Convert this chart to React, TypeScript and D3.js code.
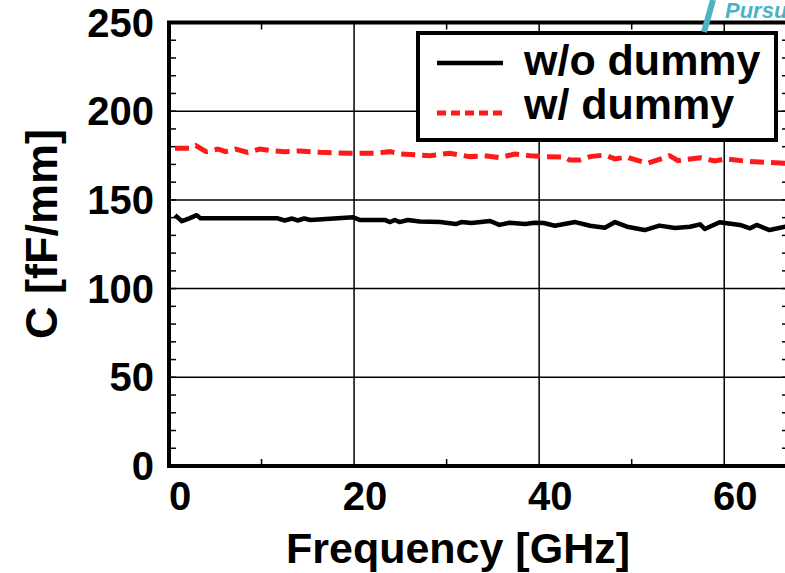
import React, { useEffect, useRef } from "react";
import * as d3 from "d3";

// frequency [GHz] and capacitance [fF/mm]
const freqWo = [0.65, 1.4, 2.2, 3.0, 3.4, 11.75, 12.5, 13.3, 13.9, 14.6, 15.3, 19.9, 20.6, 23.3, 23.9, 24.4, 24.9, 25.8, 27.1, 29.3, 31.0, 31.6, 32.7, 34.7, 35.7, 36.8, 38.5, 39.5, 40.5, 41.7, 43.9, 45.5, 47.1, 48.2, 49.5, 51.4, 53.0, 54.7, 56.3, 57.4, 57.9, 59.5, 61.7, 62.8, 63.5, 64.9, 66.6, 67.5];
const capWo = [141.4, 138.0, 139.6, 141.4, 139.6, 139.6, 138.4, 139.5, 138.4, 139.5, 138.7, 140.2, 138.7, 138.7, 137.5, 138.7, 137.5, 138.7, 137.8, 137.5, 136.4, 137.5, 137.0, 138.1, 135.9, 137.1, 136.4, 137.1, 137.0, 135.4, 137.5, 135.4, 134.3, 137.5, 134.9, 133.0, 135.5, 134.2, 134.9, 136.2, 133.6, 137.4, 135.9, 134.0, 135.9, 133.0, 134.9, 134.0];

const freqW = [0.65, 2.2, 2.9, 4.0, 5.3, 6.1, 7.2, 8.5, 9.8, 11.4, 12.5, 14.1, 16.3, 19.5, 22.2, 23.9, 24.9, 28.2, 30.3, 32.5, 34.1, 35.7, 37.4, 39.0, 40.6, 42.8, 43.3, 44.4, 45.5, 47.1, 48.2, 49.5, 49.8, 51.7, 53.4, 54.1, 55.0, 56.3, 57.4, 59.0, 60.1, 62.2, 64.4, 66.6, 67.5];
const capW = [179.1, 179.1, 180.6, 177.2, 178.7, 177.2, 178.7, 176.8, 178.7, 177.6, 177.2, 177.6, 176.8, 176.3, 176.3, 177.2, 175.9, 174.9, 176.3, 174.4, 174.9, 173.8, 175.9, 174.9, 174.4, 174.2, 172.5, 172.5, 174.4, 175.3, 173.1, 174.2, 173.5, 170.6, 173.5, 174.9, 172.1, 173.1, 173.8, 171.9, 173.1, 171.9, 171.2, 170.6, 170.4];

const yTicks = [0, 50, 100, 150, 200, 250];
const xTicks = [0, 20, 40, 60];
const legendLabels = ["w/o dummy", "w/ dummy"];

const FONT = "'Liberation Sans', Arial, sans-serif";

const App = () => {
  const svgRef = useRef<SVGSVGElement>(null);

  useEffect(() => {
    const width = 785;
    const height = 573;
    const left = 169;
    const top = 22.5;
    const right = 789; // frame runs past the picture edge
    const bottom = 466;

    const svg = d3.select(svgRef.current);
    svg.selectAll("*").remove();
    svg.attr("width", width).attr("height", height);

    const x = d3.scaleLinear().domain([0, 67]).range([left, right]);
    const y = d3.scaleLinear().domain([0, 250]).range([bottom, top]);

    // grid
    svg
      .append("g")
      .selectAll("line")
      .data([50, 100, 150, 200])
      .join("line")
      .attr("x1", left)
      .attr("x2", right)
      .attr("y1", (d) => y(d))
      .attr("y2", (d) => y(d))
      .attr("stroke", "#000")
      .attr("stroke-width", 1.5);
    svg
      .append("g")
      .selectAll("line")
      .data([20, 40, 60])
      .join("line")
      .attr("x1", (d) => x(d))
      .attr("x2", (d) => x(d))
      .attr("y1", top)
      .attr("y2", bottom)
      .attr("stroke", "#000")
      .attr("stroke-width", 1.5);

    // minor ticks, pointing inward
    const minorY = d3.range(10, 250, 10);
    const minorX = [10, 30, 50];
    const ticks = svg.append("g").attr("stroke", "#000").attr("stroke-width", 1.5);
    minorY.forEach((v) => {
      ticks.append("line").attr("x1", left).attr("x2", left + 7).attr("y1", y(v)).attr("y2", y(v));
      ticks.append("line").attr("x1", right).attr("x2", right - 7).attr("y1", y(v)).attr("y2", y(v));
    });
    minorX.forEach((v) => {
      ticks.append("line").attr("x1", x(v)).attr("x2", x(v)).attr("y1", bottom).attr("y2", bottom - 7);
      ticks.append("line").attr("x1", x(v)).attr("x2", x(v)).attr("y1", top).attr("y2", top + 7);
    });

    // data lines
    const line = d3
      .line<[number, number]>()
      .x((d) => x(d[0]))
      .y((d) => y(d[1]));

    svg
      .append("path")
      .datum(freqWo.map((f, i) => [f, capWo[i]] as [number, number]))
      .attr("d", line)
      .attr("fill", "none")
      .attr("stroke", "#000")
      .attr("stroke-width", 4.5)
      .attr("stroke-linejoin", "round");

    svg
      .append("path")
      .datum(freqW.map((f, i) => [f, capW[i]] as [number, number]))
      .attr("d", line)
      .attr("fill", "none")
      .attr("stroke", "#ff1a1a")
      .attr("stroke-width", 5)
      .attr("stroke-dasharray", "14,7");

    // frame
    svg
      .append("rect")
      .attr("x", left)
      .attr("y", top)
      .attr("width", right - left)
      .attr("height", bottom - top)
      .attr("fill", "none")
      .attr("stroke", "#000")
      .attr("stroke-width", 4);

    // tick labels
    svg
      .append("g")
      .selectAll("text")
      .data(yTicks)
      .join("text")
      .attr("x", 154)
      .attr("y", (d) => y(d) + 14)
      .attr("text-anchor", "end")
      .attr("font-family", FONT)
      .attr("font-weight", "bold")
      .attr("font-size", 40)
      .text((d) => d);

    svg
      .append("g")
      .selectAll("text")
      .data(xTicks)
      .join("text")
      .attr("x", (d) => x(d) + 11)
      .attr("y", 510)
      .attr("text-anchor", "middle")
      .attr("font-family", FONT)
      .attr("font-weight", "bold")
      .attr("font-size", 40)
      .text((d) => d);

    // axis titles
    svg
      .append("text")
      .attr("x", 458)
      .attr("y", 563)
      .attr("text-anchor", "middle")
      .attr("font-family", FONT)
      .attr("font-weight", "bold")
      .attr("font-size", 43)
      .text("Frequency [GHz]");

    svg
      .append("text")
      .attr("transform", "translate(57,234) rotate(-90)")
      .attr("text-anchor", "middle")
      .attr("font-family", FONT)
      .attr("font-weight", "bold")
      .attr("font-size", 45)
      .text("C [fF/mm]");

    // legend
    const lg = svg.append("g");
    lg.append("rect")
      .attr("x", 418)
      .attr("y", 33)
      .attr("width", 358)
      .attr("height", 107)
      .attr("fill", "#fff")
      .attr("stroke", "#000")
      .attr("stroke-width", 4);
    lg.append("line")
      .attr("x1", 437).attr("x2", 503).attr("y1", 63).attr("y2", 63)
      .attr("stroke", "#000").attr("stroke-width", 4.5);
    lg.append("line")
      .attr("x1", 437).attr("x2", 503).attr("y1", 113).attr("y2", 113)
      .attr("stroke", "#ff1a1a").attr("stroke-width", 5).attr("stroke-dasharray", "9,5");
    lg.selectAll("text")
      .data(legendLabels)
      .join("text")
      .attr("x", 524)
      .attr("y", (d, i) => 75 + i * 44)
      .attr("font-family", FONT)
      .attr("font-weight", "bold")
      .attr("font-size", 43)
      .text((d) => d);

    // watermark bits at the top right
    svg
      .append("line")
      .attr("x1", 704).attr("y1", 32).attr("x2", 713).attr("y2", 0)
      .attr("stroke", "#4ab3c4").attr("stroke-width", 6);
    svg
      .append("text")
      .attr("x", 725)
      .attr("y", 18)
      .attr("font-family", FONT)
      .attr("font-weight", "bold")
      .attr("font-style", "italic")
      .attr("font-size", 22)
      .attr("fill", "#4ab3c4")
      .text("Pursu");
  }, []);

  return (
    <svg
      ref={svgRef}
      style={{ position: "absolute", left: 0, top: 0, overflow: "hidden" }}
    ></svg>
  );
};

export default App;
